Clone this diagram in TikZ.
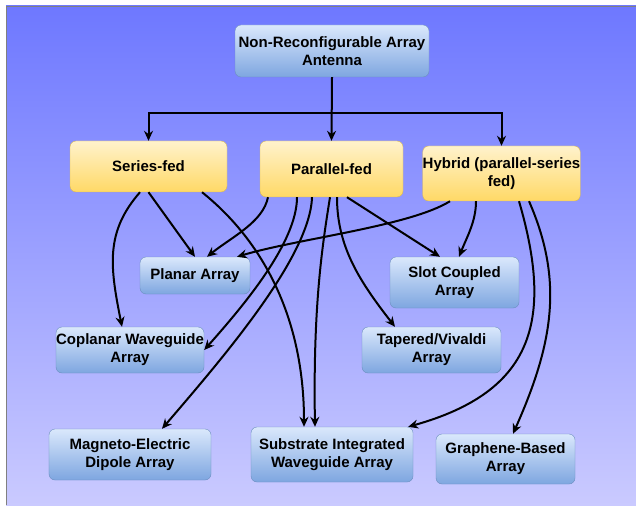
\documentclass[tikz,border=0pt]{standalone}
\usepackage{fontspec}
\setmainfont{Liberation Sans}
\usetikzlibrary{arrows.meta}
\definecolor{bgtop}{RGB}{110,120,255}
\definecolor{bgbot}{RGB}{202,202,255}
\definecolor{bluetop}{HTML}{DAE8FC}
\definecolor{bluebot}{HTML}{7EA6E0}
\definecolor{bluedraw}{HTML}{6C8EBF}
\definecolor{yeltop}{HTML}{FFF2CC}
\definecolor{yelbot}{HTML}{FFD966}
\definecolor{yeldraw}{HTML}{D6B656}

\begin{document}
\begin{tikzpicture}[x=1bp,y=-1bp,
  bluebox/.style={draw=bluedraw,rounded corners=6bp,top color=bluetop,bottom color=bluebot,
    align=center,font=\fontsize{15bp}{18bp}\selectfont\bfseries,text=black,inner sep=0pt},
  yelbox/.style={bluebox,draw=yeldraw,top color=yeltop,bottom color=yelbot},
  arr/.style={-{Stealth[length=10bp,width=9bp]},line width=2bp}]
\fill[white] (0,0) rectangle (636,507);
\useasboundingbox (0,0) rectangle (636,507);
\shade[top color=bgtop,bottom color=bgbot] (6,6) rectangle (636,505);
\draw[gray] (6,505) -- (6,6) -- (636,6);

\node[bluebox,minimum width=194bp,minimum height=52bp] (root) at (332,51) {Non-Reconfigurable Array\\Antenna};
\node[yelbox,minimum width=157bp,minimum height=51bp] (series) at (148.5,166.5) {Series-fed};
\node[yelbox,minimum width=143bp,minimum height=56bp] (parallel) at (331.5,169) {Parallel-fed};
\node[yelbox,minimum width=157bp,minimum height=55bp] (hybrid) at (501.5,173.5) {Hybrid (parallel-series\\fed)};
\node[bluebox,minimum width=110bp,minimum height=37bp] (planar) at (195,275.5) {Planar Array};
\node[bluebox,minimum width=129bp,minimum height=51bp] (slot) at (454.5,282.5) {Slot Coupled\\Array};
\node[bluebox,minimum width=148bp,minimum height=46bp] (coplanar) at (130,350) {Coplanar Waveguide\\Array};
\node[bluebox,minimum width=139bp,minimum height=46bp] (tapered) at (431.5,350) {Tapered/Vivaldi\\Array};
\node[bluebox,minimum width=162bp,minimum height=51bp] (magneto) at (130,454.5) {Magneto-Electric\\Dipole Array};
\node[bluebox,minimum width=162bp,minimum height=55bp] (substrate) at (332,454.5) {Substrate Integrated\\Waveguide Array};
\node[bluebox,minimum width=139bp,minimum height=50bp] (graphene) at (505.5,459) {Graphene-Based\\Array};

\coordinate (bus) at (332,113);
\draw[arr] (root.south) -- (parallel.north);
\draw[arr] (bus) -| (series.north);
\draw[arr] (bus) -| (hybrid.north);

\draw[arr] ([xshift=-8.5bp]series.south) .. controls +(-35,40) and +(-12,-60) .. ([xshift=-8bp]coplanar.north);
\draw[arr] (series.south) -- (planar.north);
\draw[arr] ([xshift=53.5bp]series.south) .. controls +(60,48) and +(0,-110) .. ([xshift=-28bp]substrate.north);

\draw[arr] ([xshift=-63.5bp]parallel.south) .. controls +(-5,25) and +(25,-20) .. ([xshift=12bp]planar.north);
\draw[arr] ([xshift=-34.5bp]parallel.south) .. controls +(0,45) and +(40,-45) .. (coplanar.east);
\draw[arr] ([xshift=-19.5bp]parallel.south) .. controls +(-2,60) and +(60,-70) .. ([xshift=32bp]magneto.north);
\draw[arr] ([xshift=-1.5bp]parallel.south) .. controls +(-8,50) and +(-2,-120) .. ([xshift=-17bp]substrate.north);
\draw[arr] ([xshift=5.5bp]parallel.south) .. controls +(0,50) and +(-35,-45) .. ([xshift=-36.5bp]tapered.north);
\draw[arr] ([xshift=15.5bp]parallel.south) -- ([xshift=-14.5bp]slot.north);

\draw[arr] ([xshift=-51.5bp]hybrid.south) .. controls +(-40,25) and +(60,-18) .. ([xshift=42bp]planar.north);
\draw[arr] ([xshift=-25.5bp]hybrid.south) .. controls +(0,20) and +(8,-20) .. ([xshift=4.5bp]slot.north);
\draw[arr] ([xshift=17.5bp]hybrid.south) .. controls +(35,120) and +(125,-35) .. ([xshift=-5bp]substrate.north east);
\draw[arr] ([xshift=27.5bp]hybrid.south) .. controls +(35,80) and +(40,-90) .. ([xshift=7.5bp]graphene.north);
\end{tikzpicture}
\end{document}
